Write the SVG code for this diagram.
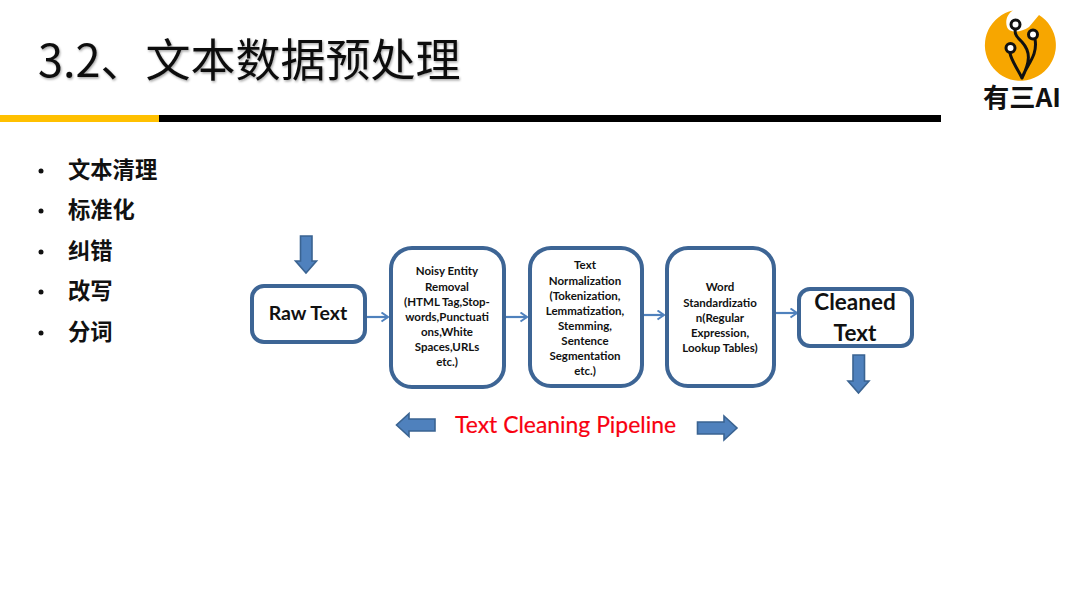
<svg xmlns="http://www.w3.org/2000/svg" width="1080" height="608" viewBox="0 0 1080 608">
  <style>
    .box { fill: #fff; stroke: #3d6595; stroke-width: 4; }
    .block { fill: #4f81bd; stroke: #3a6391; stroke-width: 1.6; }
    .link { fill: none; stroke: #4f81bd; stroke-width: 2.2; }
    .lbl { font-family: Lato, "Liberation Sans", sans-serif; font-weight: 700; fill: #111; text-anchor: middle; }
    .small { font-size: 11.5px; }
    .large { font-size: 22.500px; }
    .bullet { font-family: "Noto Sans CJK SC", sans-serif; font-size: 22.300px; font-weight: 700; fill: #111; }
    .dot { fill: #111; }
    .circuit { fill: none; stroke: #111; stroke-width: 3; stroke-linecap: round; }
    .pad { fill: #fff; stroke: #111; stroke-width: 3; }
  </style>
  <defs>
    <filter id="titleShadow" x="-5%" y="-20%" width="110%" height="140%">
      <feDropShadow dx="1" dy="1.5" stdDeviation="1" flood-color="#000" flood-opacity="0.35"/>
    </filter>
    <marker id="open" markerWidth="10" markerHeight="12" refX="8" refY="5" orient="auto" markerUnits="userSpaceOnUse">
      <path d="M1.5 0.5 L8 5 L1.5 9.5" fill="none" stroke="#4f81bd" stroke-width="2"/>
    </marker>
  </defs>

  <rect width="1080" height="608" fill="#fff"/>

  <!-- Heading and rule -->
  <g id="heading">
    <text x="38" y="77" font-family="'Noto Sans CJK SC', sans-serif" font-size="45" fill="#111" filter="url(#titleShadow)">3.2、文本数据预处理</text>
    <rect x="0" y="115" width="159" height="7" fill="#ffc000"/>
    <rect x="159" y="115" width="782" height="7" fill="#000"/>
  </g>

  <!-- Brand mark -->
  <g id="logo">
    <path d="M1013 10.500 A35.500 35.500 0 1 0 1039 15 L1029 27 C1020 33 1009 33 1007 27 C1005 21 1007 14 1013 10.500 Z" fill="#f7a600"/>
    <path class="circuit" d="M1022 78 C1016 66 1011 60 1010 53 M1022 78 C1027 64 1038 56 1035 39 M1022 78 C1030 62 1031 52 1022 42 C1017 37 1015 35 1015 30"/>
    <circle class="pad" cx="1015.500" cy="24.500" r="4.500"/>
    <circle class="pad" cx="1033" cy="34.500" r="4.500"/>
    <circle class="pad" cx="1010.500" cy="48" r="4.500"/>
    <text x="1022" y="107" font-family="'Noto Sans CJK SC', sans-serif" font-size="26" font-weight="700" fill="#111" text-anchor="middle" textLength="78" lengthAdjust="spacingAndGlyphs">有三AI</text>
  </g>

  <!-- Bullet list -->
  <g id="bullets">
    <circle class="dot" cx="41" cy="171" r="2.500"/><text class="bullet" x="68" y="178">文本清理</text>
    <circle class="dot" cx="41" cy="211" r="2.500"/><text class="bullet" x="68" y="218">标准化</text>
    <circle class="dot" cx="41" cy="252" r="2.500"/><text class="bullet" x="68" y="259">纠错</text>
    <circle class="dot" cx="41" cy="292" r="2.500"/><text class="bullet" x="68" y="299">改写</text>
    <circle class="dot" cx="41" cy="333" r="2.500"/><text class="bullet" x="68" y="340">分词</text>
  </g>

  <!-- Links between the stages -->
  <g id="connectors">
    <path class="link" d="M366 317 H388" marker-end="url(#open)"/>
    <path class="link" d="M505 317 H527" marker-end="url(#open)"/>
    <path class="link" d="M643 315 H664" marker-end="url(#open)"/>
    <path class="link" d="M775 313 H797" marker-end="url(#open)"/>
  </g>

  <g id="raw-text">
    <rect class="box" x="252" y="286" width="113" height="56" rx="12"/>
    <text class="lbl" x="308" y="320" font-size="19.500">Raw Text</text>
  </g>

  <g id="noisy-entity-removal">
    <rect class="box" x="391" y="248" width="113" height="139" rx="21"/>
    <text class="lbl small" x="447" y="275">Noisy Entity</text>
    <text class="lbl small" x="447" y="291">Removal</text>
    <text class="lbl small" x="447" y="306">(HTML Tag,Stop-</text>
    <text class="lbl small" x="447" y="321">words,Punctuati</text>
    <text class="lbl small" x="447" y="336">ons,White</text>
    <text class="lbl small" x="447" y="351">Spaces,URLs</text>
    <text class="lbl small" x="447" y="366">etc.)</text>
  </g>

  <g id="text-normalization">
    <rect class="box" x="530" y="248" width="112" height="138" rx="21"/>
    <text class="lbl small" x="585" y="269">Text</text>
    <text class="lbl small" x="585" y="285">Normalization</text>
    <text class="lbl small" x="585" y="300">(Tokenization,</text>
    <text class="lbl small" x="585" y="315">Lemmatization,</text>
    <text class="lbl small" x="585" y="330">Stemming,</text>
    <text class="lbl small" x="585" y="345">Sentence</text>
    <text class="lbl small" x="585" y="360">Segmentation</text>
    <text class="lbl small" x="585" y="375">etc.)</text>
  </g>

  <g id="word-standardization">
    <rect class="box" x="667" y="248" width="107" height="138" rx="21"/>
    <text class="lbl small" x="720" y="291">Word</text>
    <text class="lbl small" x="720" y="307">Standardizatio</text>
    <text class="lbl small" x="720" y="322">n(Regular</text>
    <text class="lbl small" x="720" y="337">Expression,</text>
    <text class="lbl small" x="720" y="352">Lookup Tables)</text>
  </g>

  <g id="cleaned-text">
    <rect class="box" x="799" y="289" width="113" height="57" rx="11"/>
    <text class="lbl large" x="855" y="310">Cleaned</text>
    <text class="lbl large" x="855" y="341">Text</text>
  </g>

  <!-- Block arrows -->
  <g id="block-arrows">
    <path class="block" d="M300.500 236 H312 V261 H316.500 L306 273 L295.500 261 H300.500 Z"/>
    <path class="block" d="M853 355 H864.500 V381 H869 L858.500 393 L848 381 H853 Z"/>
    <path class="block" d="M435 419 V431 H409 V436.500 L396.500 425 L409 413.500 V419 Z"/>
    <path class="block" d="M697.500 422 V434 H724 V440 L737 428 L724 416 V422 Z"/>
  </g>

  <g id="pipeline-label">
    <text x="455" y="433" font-family="Lato, 'Liberation Sans', sans-serif" font-size="23" fill="#f80010" stroke="#f80010" stroke-width="0.2" textLength="221" lengthAdjust="spacingAndGlyphs">Text Cleaning Pipeline</text>
  </g>
</svg>
